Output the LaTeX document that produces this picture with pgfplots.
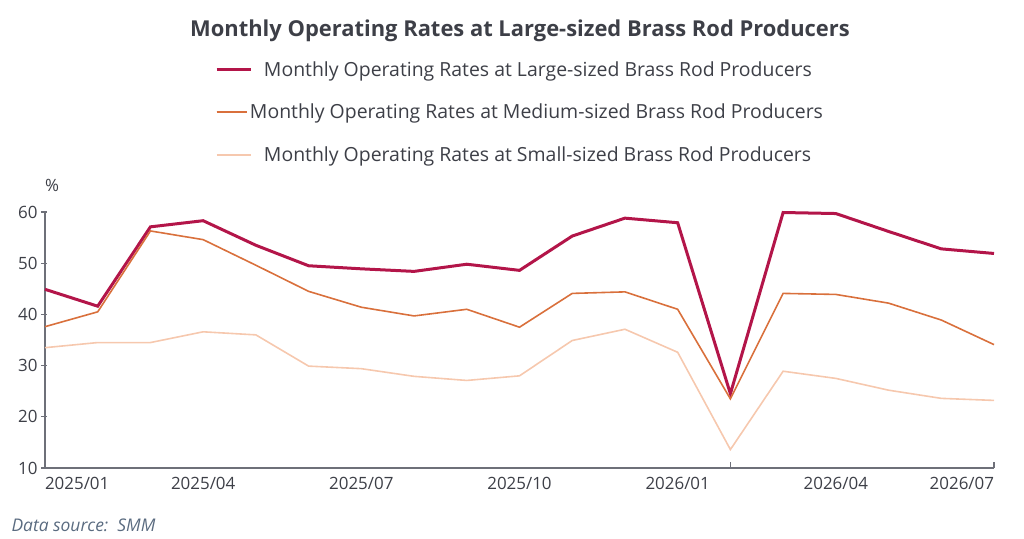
\documentclass[border=0pt]{standalone}
\usepackage{fontspec}
\setmainfont{Open Sans}
\usepackage{pgfplots}
\pgfplotsset{compat=1.18}
\usepackage{pgfplotstable}
\definecolor{cLarge}{HTML}{B31549}
\definecolor{cMed}{HTML}{D9703C}
\definecolor{cSmall}{HTML}{F6C8AE}
\definecolor{axisgray}{HTML}{6E7079}
\definecolor{txt}{HTML}{3D3F47}
\definecolor{src}{HTML}{5A6B80}
\pgfplotsset{
  plainimg/.style={legend image code/.code={\path (0bp,0bp) -- (30bp,0bp); \draw[##1] (0bp,0bp) -- (20bp,0bp);}},
  shiftimg/.style={legend image code/.code={\path (0bp,0bp) -- (30bp,0bp); \draw[##1,overlay] (14bp,0bp) -- (34bp,0bp);}},
}
\pgfplotstableread{
x large med small
0 44.9 37.6 33.5
1 41.6 40.5 34.5
2 57.1 56.3 34.5
3 58.3 54.6 36.6
4 53.5 49.6 36.0
5 49.5 44.5 29.9
6 48.9 41.4 29.4
7 48.4 39.7 27.9
8 49.8 41.0 27.1
9 48.6 37.5 28.0
10 55.3 44.1 34.9
11 58.8 44.4 37.1
12 57.9 41.0 32.6
13 24.5 23.5 13.6
14 59.9 44.1 28.9
15 59.7 43.9 27.5
16 56.2 42.2 25.2
17 52.8 38.9 23.6
18 51.9 34.1 23.2
}\datatable
\begin{document}
\begin{tikzpicture}
\path (-45bp,-71bp) rectangle (979bp,468bp);
\begin{axis}[
  scale only axis,
  width=949bp, height=256bp,
  xmin=0, xmax=18, ymin=10, ymax=60,
  axis x line*=bottom, axis y line*=left,
  axis line style={draw=axisgray, line width=1.2bp},
  ytick={10,20,...,60},
  xtick={13,18}, xticklabels={,},
  extra x ticks={0,3,6,9,12,15,18},
  extra x tick labels={\rlap{2025/01},2025/04,2025/07,2025/10,2026/01,2026/04,\llap{2026/07}},
  extra x tick style={major tick length=0pt},
  tick align=inside,
  major tick length=6bp,
  tick style={draw=axisgray, line width=1.2bp},
  y tick style={xshift=-4bp},
  ticklabel style={font=\fontsize{17}{20}\selectfont, text=txt},
  /pgf/number format/assume math mode=true,
  xticklabel style={yshift=-6bp},
  yticklabel style={xshift=-4bp},
  legend style={at={(0.5005,1.605)}, anchor=north, draw=none, fill=none,
    font=\fontsize{19.5}{23}\selectfont, text=txt, row sep=22.5bp,
    legend cell align=left},
  clip=false,
]
\addplot[cLarge, line width=3bp, shiftimg] table[x=x,y=large]{\datatable};
\addlegendentry{\hspace*{14bp}Monthly Operating Rates at Large-sized Brass Rod Producers}
\addplot[cMed, line width=1.6bp, plainimg] table[x=x,y=med]{\datatable};
\addlegendentry{Monthly Operating Rates at Medium-sized Brass Rod Producers}
\addplot[cSmall, line width=1.6bp, shiftimg] table[x=x,y=small]{\datatable};
\addlegendentry{\hspace*{14bp}Monthly Operating Rates at Small-sized Brass Rod Producers}
\end{axis}
\node[font=\bfseries\fontsize{22}{26}\selectfont, text=txt] at (475bp,437bp) {Monthly Operating Rates at Large-sized Brass Rod Producers};
\node[font=\fontsize{17}{20}\selectfont, text=txt] at (7bp,283bp) {\%};
\node[font=\itshape\fontsize{17.5}{21}\selectfont, text=src, anchor=west] at (-37bp,-57bp) {Data source:\ \ SMM};
\end{tikzpicture}
\end{document}
